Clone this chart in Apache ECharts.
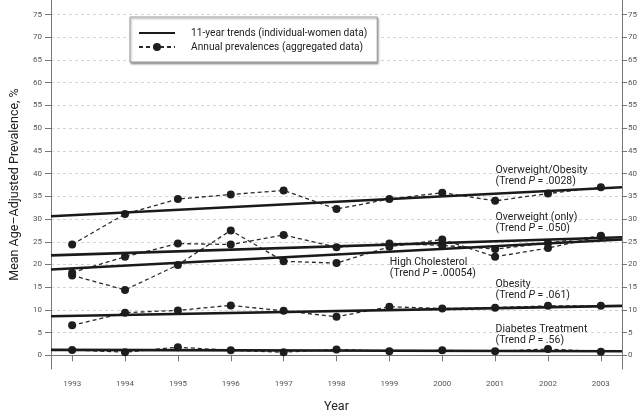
<!DOCTYPE html>
<html>
<head>
<meta charset="utf-8">
<script src="https://cdn.jsdelivr.net/npm/echarts@6/dist/echarts.min.js"></script>
<style>html,body{margin:0;padding:0;background:#fff}#c{width:640px;height:418px}</style>
</head>
<body>
<div id="c"></div>
<script>
// ---- data ----
const years = [1993, 1994, 1995, 1996, 1997, 1998, 1999, 2000, 2001, 2002, 2003];
const overweightObesity = [24.4, 31.1, 34.4, 35.4, 36.3, 32.2, 34.4, 35.8, 34.0, 35.6, 37.0];
const overweightOnly   = [18.2, 21.7, 24.6, 24.4, 26.5, 23.8, 24.6, 24.2, 23.4, 24.7, 26.3];
const highCholesterol  = [17.6, 14.4, 19.9, 27.5, 20.7, 20.3, 23.9, 25.5, 21.7, 23.6, 26.2];
const obesity          = [6.6, 9.4, 9.9, 11.0, 9.8, 8.5, 10.7, 10.3, 10.5, 10.9, 10.9];
const diabetesTreatment = [1.2, 0.7, 1.8, 1.1, 0.7, 1.3, 0.9, 1.1, 0.9, 1.4, 0.8];
// 11-year trend values at the start / end of the year axis
const trendYears = [1992.6, 2003.4];
const trendOverweightObesity = [30.6, 37.0];
const trendOverweightOnly = [22.0, 26.0];
const trendHighCholesterol = [18.9, 25.5];
const trendObesity = [8.6, 10.9];
const trendDiabetes = [1.2, 0.9];
const yTicks = [0, 5, 10, 15, 20, 25, 30, 35, 40, 45, 50, 55, 60, 65, 70, 75];
const xTicks = years;
const groupNames = ['Overweight/Obesity', 'Overweight (only)', 'High Cholesterol', 'Obesity', 'Diabetes Treatment'];
const trendP = ['.0028', '.050', '.00054', '.061', '.56'];
// annotation anchors (data space)
const labelAnchors = [[2001.0, 39.4], [2001.0, 29.25], [1999.0, 19.35], [2001.0, 14.4], [2001.0, 4.5]];

const TREND = '11-year trends (individual-women data)';
const ANNUAL = 'Annual prevalences (aggregated data)';
const FONT = 'Roboto';

const annual = [overweightObesity, overweightOnly, highCholesterol, obesity, diabetesTreatment];
const trends = [trendOverweightObesity, trendOverweightOnly, trendHighCholesterol, trendObesity, trendDiabetes];

const series = [];
annual.forEach(function (vals) {
  series.push({
    type: 'line', name: ANNUAL, z: 3,
    data: years.map(function (y, i) { return [y, vals[i]]; }),
    symbol: 'circle', symbolSize: 8,
    lineStyle: { color: '#2a2a2a', width: 1.3, type: [4, 3] },
    itemStyle: { color: '#1e1e1e' },
    silent: true
  });
});
trends.forEach(function (t, k) {
  series.push({
    type: 'line', name: TREND, z: 4,
    data: trendYears.map(function (x, i) { return [x, t[i]]; }),
    symbol: 'none',
    lineStyle: { color: '#1a1a1a', width: 2.6 },
    itemStyle: { color: '#1a1a1a' },
    silent: true,
    markPoint: {
      symbol: 'rect', symbolSize: 1, silent: true,
      itemStyle: { color: 'rgba(0,0,0,0)' },
      data: [{ coord: labelAnchors[k], value: 0 }],
      label: {
        show: true, position: 'right', distance: 0,
        formatter: '{a|' + groupNames[k] + '}\n{a|(Trend }{i|P}{a| = ' + trendP[k] + ')}',
        rich: {
          a: { fontFamily: FONT, fontSize: 10.5, color: '#222', lineHeight: 11 },
          i: { fontFamily: FONT, fontSize: 10.5, color: '#222', fontStyle: 'italic', lineHeight: 11 }
        }
      }
    }
  });
});

const chart = echarts.init(document.getElementById('c'), null, { renderer: 'canvas' });
chart.setOption({
  animation: false,
  backgroundColor: '#fff',
  grid: { left: 43, right: 18, top: 0, bottom: 46, containLabel: false },
  legend: {
    data: [{ name: TREND, itemStyle: { opacity: 0 } }, { name: ANNUAL }],
    orient: 'vertical', left: 130, top: 17,
    itemWidth: 36, itemHeight: 10, itemGap: 4,
    padding: [11, 10, 10, 8],
    backgroundColor: '#fff', borderColor: '#999', borderWidth: 1,
    shadowColor: 'rgba(0,0,0,0.35)', shadowBlur: 2, shadowOffsetX: 1, shadowOffsetY: 1.5,
    selectedMode: false,
    textStyle: { fontFamily: FONT, fontSize: 10.2, color: '#222', padding: [0, 0, 0, 11] }
  },
  xAxis: {
    type: 'value', min: 1992.6, max: 2003.4,
    name: 'Year', nameLocation: 'middle', nameGap: 31,
    nameTextStyle: { fontFamily: FONT, fontSize: 12.5, color: '#222' },
    axisLine: { show: true, lineStyle: { color: '#777', width: 1 } },
    axisTick: { show: true, length: 6, lineStyle: { color: '#777' }, customValues: xTicks },
    axisLabel: {
      customValues: xTicks, fontFamily: FONT, fontSize: 8, color: '#555', margin: 11,
      formatter: function (v) { return String(v); }
    },
    splitLine: { show: false }
  },
  yAxis: [{
    type: 'value', min: -3, max: 78.2, position: 'left',
    name: 'Mean Age–Adjusted Prevalence, %', nameLocation: 'middle', nameGap: 30, nameRotate: 90,
    nameTextStyle: { fontFamily: FONT, fontSize: 12.5, color: '#222' },
    axisLine: { show: true, lineStyle: { color: '#777', width: 1 } },
    axisTick: { show: true, length: 6, lineStyle: { color: '#777' }, customValues: yTicks },
    axisLabel: { customValues: yTicks, fontFamily: FONT, fontSize: 8, color: '#555', margin: 9 },
    splitLine: { show: true, lineStyle: { color: '#d4d4d4', width: 1, type: [3, 3] } }
  }, {
    type: 'value', min: -3, max: 78.2, position: 'right',
    axisLine: { show: true, lineStyle: { color: '#777', width: 1 } },
    axisTick: { show: true, length: 5, lineStyle: { color: '#777' }, customValues: yTicks },
    axisLabel: { customValues: yTicks, fontFamily: FONT, fontSize: 8, color: '#555', margin: 6 },
    splitLine: { show: false }
  }],
  series: series
});
</script>
</body>
</html>
